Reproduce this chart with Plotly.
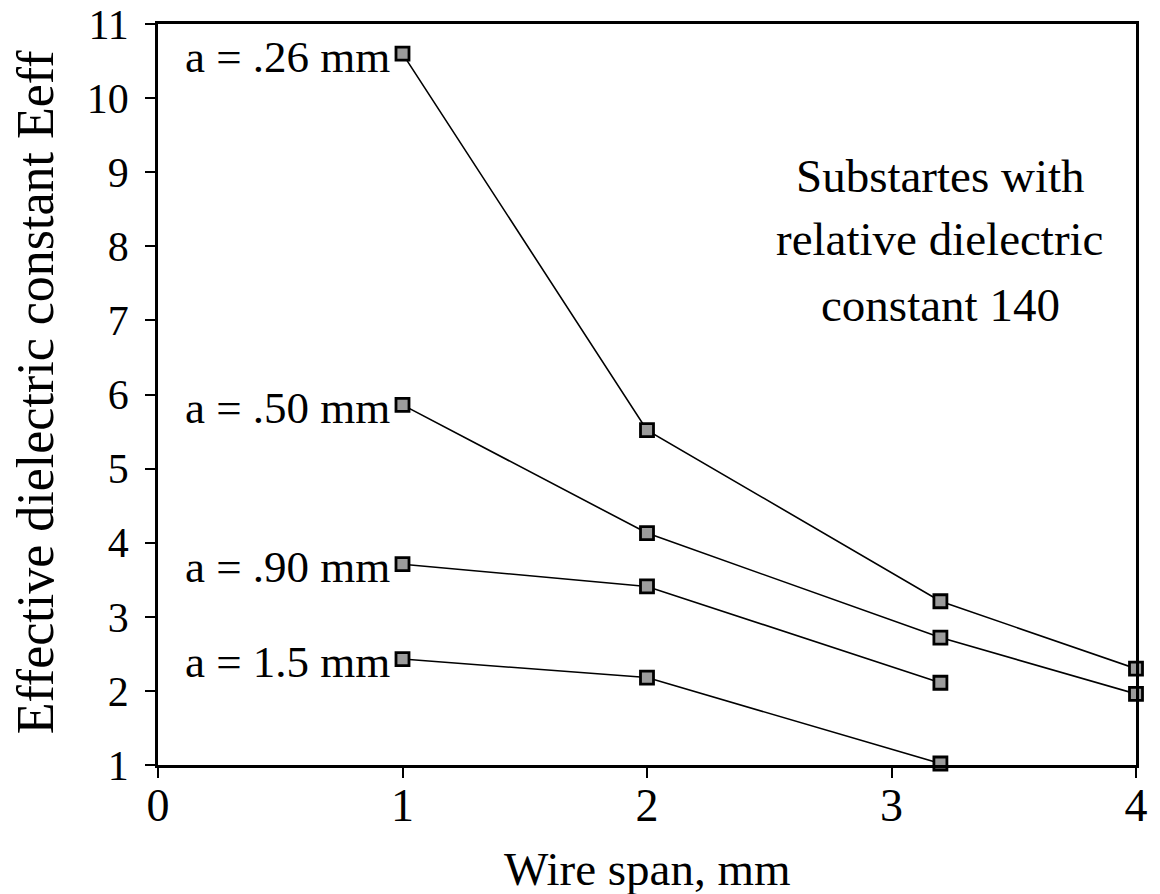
import plotly.graph_objects as go

# Wire span (mm) and effective dielectric constant for each wire radius a
span_full = [1, 2, 3.2, 4]
span_short = [1, 2, 3.2]

eeff_a026 = [10.6, 5.52, 3.21, 2.30]
eeff_a050 = [5.86, 4.13, 2.72, 1.96]
eeff_a090 = [3.71, 3.41, 2.11]
eeff_a150 = [2.43, 2.18, 1.02]

series_labels = ["a = .26 mm", "a = .50 mm", "a = .90 mm", "a = 1.5 mm"]

x_ticks = [0, 1, 2, 3, 4]
y_ticks = list(range(1, 12))

note_lines = ["Substartes with", "relative dielectric", "constant 140"]

FONT = "Liberation Serif, Times New Roman, serif"

series = [
    (span_full, eeff_a026),
    (span_full, eeff_a050),
    (span_short, eeff_a090),
    (span_short, eeff_a150),
]

fig = go.Figure()

for (xs, ys), name in zip(series, series_labels):
    fig.add_trace(go.Scatter(
        x=xs, y=ys, mode="lines+markers", name=name,
        line=dict(color="black", width=1.6),
        marker=dict(symbol="square", size=13, color="#9c9c9c",
                    line=dict(color="black", width=2.8)),
        cliponaxis=False, showlegend=False,
    ))
    # label placed to the left of the first point of each curve
    fig.add_annotation(
        x=xs[0], y=ys[0], text=name, showarrow=False,
        xanchor="right", yanchor="middle", xshift=-11, yshift=-3,
        font=dict(family=FONT, size=45, color="black"),
    )

# note in the upper right of the plot
for txt, yp in zip(note_lines, [0.795, 0.710, 0.621]):
    fig.add_annotation(
        xref="paper", yref="paper", x=0.80, y=yp, text=txt,
        showarrow=False, xanchor="center", yanchor="middle",
        font=dict(family=FONT, size=47, color="black"),
    )

# axis titles
fig.add_annotation(
    xref="paper", yref="paper", x=0.5, y=-0.14, text="Wire span, mm",
    showarrow=False, xanchor="center", yanchor="middle",
    font=dict(family=FONT, size=47, color="black"),
)
fig.add_annotation(
    xref="paper", yref="paper", x=-0.125, y=0.504,
    text="Effective dielectric constant Eeff", textangle=-90,
    showarrow=False, xanchor="center", yanchor="middle",
    font=dict(family=FONT, size=52, color="black"),
)

axis_common = dict(
    showgrid=False, zeroline=False, showline=True, linecolor="black",
    linewidth=2.5, mirror=True, ticks="outside", ticklen=10,
    tickwidth=1.8, tickcolor="black",
)

fig.update_xaxes(
    range=[0, 4], tickvals=x_ticks, ticktext=[str(v) for v in x_ticks],
    tickfont=dict(family=FONT, size=46, color="black"),
    ticklabelstandoff=-12, **axis_common,
)
fig.update_yaxes(
    range=[1, 11], tickvals=y_ticks, ticktext=[str(v) for v in y_ticks],
    tickfont=dict(family=FONT, size=42, color="black"),
    ticklabelstandoff=8, **axis_common,
)

fig.update_layout(
    width=1160, height=894,
    margin=dict(l=158, r=24, t=24, b=129, autoexpand=False),
    paper_bgcolor="white", plot_bgcolor="white",
    font=dict(family=FONT, color="black"),
)

fig.write_html("out.html")
